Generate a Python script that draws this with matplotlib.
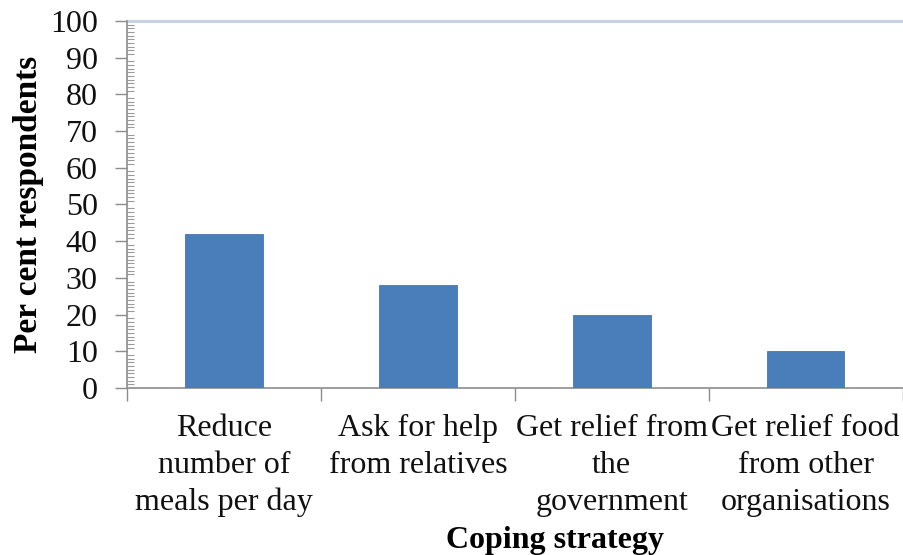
import matplotlib
matplotlib.use("Agg")
import matplotlib.pyplot as plt
from matplotlib.ticker import MultipleLocator, FixedLocator, NullFormatter

# Coping strategies and share of respondents using each (%)
categories = [
    "Reduce\nnumber of\nmeals per day",
    "Ask for help\nfrom relatives",
    "Get relief from\nthe\ngovernment",
    "Get relief food\nfrom other\norganisations",
]
percent = [42, 28, 20, 10]
y_ticks = [0, 10, 20, 30, 40, 50, 60, 70, 80, 90, 100]

plt.rcParams["font.family"] = ["Liberation Serif", "DejaVu Serif"]
FS = 23

fig = plt.figure(figsize=(9.04, 5.55), dpi=100)
ax = fig.add_axes([0.1405, 0.3009, 0.858, 0.6613])

x = range(len(categories))
ax.bar(x, percent, width=0.4, color="#4a7ebb", edgecolor="#4676b0", linewidth=0.6, zorder=3)

ax.set_xlim(-0.5, len(categories) - 0.5)
ax.set_ylim(0, 100)

# top reference line at 100
ax.axhline(100, color="#c6d4e3", linewidth=2.2, zorder=2, clip_on=False)

for side in ("top", "right"):
    ax.spines[side].set_visible(False)
for side in ("left", "bottom"):
    ax.spines[side].set_color("#8c8c8c")
    ax.spines[side].set_linewidth(1.2)

# y axis: major ticks outward, minor ticks every unit inward
ax.set_yticks(y_ticks)
ax.set_yticklabels([str(v) for v in y_ticks])
ax.yaxis.set_minor_locator(MultipleLocator(1))
ax.tick_params(axis="y", which="major", direction="out", length=9, width=1,
               color="#8c8c8c", labelsize=FS, pad=12, labelcolor="#111111")
ax.tick_params(axis="y", which="minor", direction="in", length=5, width=0.8,
               color="#9a9a9a")

# x axis: labels centred on categories, tick marks on boundaries
ax.set_xticks(list(x))
ax.set_xticklabels(categories, linespacing=1.35)
ax.xaxis.set_minor_locator(FixedLocator([i - 0.5 for i in range(len(categories) + 1)]))
ax.xaxis.set_minor_formatter(NullFormatter())
ax.tick_params(axis="x", which="major", length=0, labelsize=FS, pad=19,
               labelcolor="#111111")
ax.tick_params(axis="x", which="minor", direction="out", length=9, width=1,
               color="#8c8c8c")

ax.set_ylabel("Per cent respondents", fontsize=FS + 1, fontweight="bold", labelpad=4)
ax.set_xlabel("Coping strategy", fontsize=FS, fontweight="bold")
ax.xaxis.set_label_coords(0.5515, -0.375)

fig.savefig("out.png", dpi=100)
